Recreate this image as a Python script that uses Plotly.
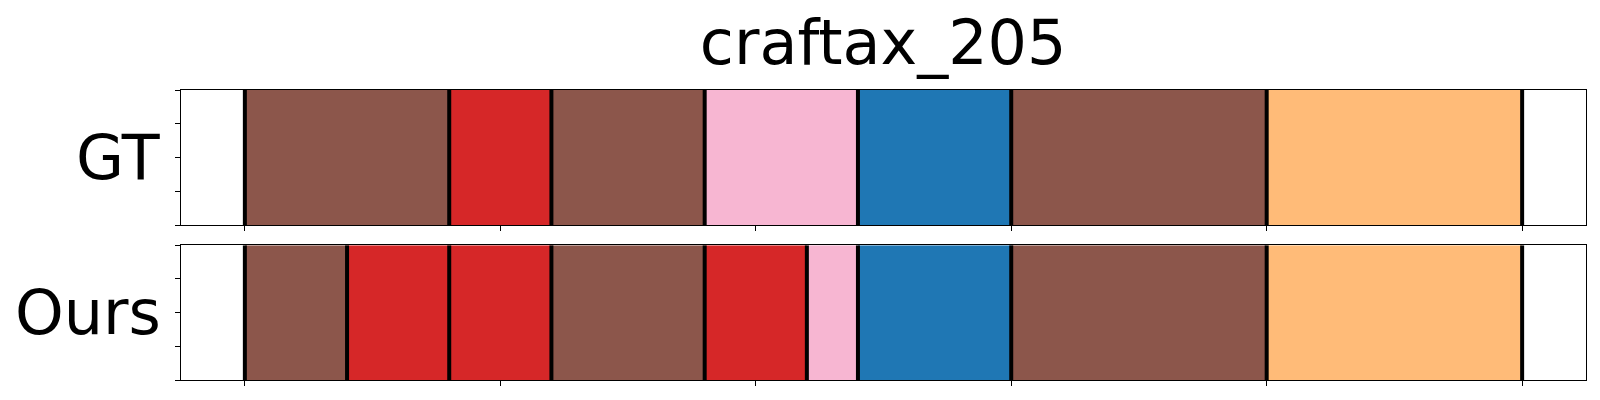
import plotly.graph_objects as go
from plotly.subplots import make_subplots

# ---- data ----
title_text = "craftax_205"
row_names = ["GT", "Ours"]

gt_starts = [0, 40, 60, 90, 120, 150, 200]
gt_ends = [40, 60, 90, 120, 150, 200, 250]
gt_classes = [5, 3, 5, 6, 0, 5, 1]

ours_starts = [0, 20, 40, 60, 90, 110, 120, 150, 200]
ours_ends = [20, 40, 60, 90, 110, 120, 150, 200, 250]
ours_classes = [5, 3, 3, 5, 3, 6, 0, 5, 1]

x_ticks = [0, 50, 100, 150, 200, 250]
y_ticks = [0, 0.25, 0.5, 0.75, 1.0]

# ---- style ----
class_colors = {0: "#1f77b4", 1: "#ffbb78", 3: "#d62728", 5: "#8c564b", 6: "#f7b6d2"}
FONT = "DejaVu Sans"

fig = make_subplots(rows=2, cols=1, shared_xaxes=False, vertical_spacing=0.07)

rows = [(gt_starts, gt_ends, gt_classes), (ours_starts, ours_ends, ours_classes)]
for r, (starts, ends, classes) in enumerate(rows, start=1):
    for s, e, c in zip(starts, ends, classes):
        fig.add_trace(go.Bar(
            x=[e - s], base=[s], y=[0.5], orientation="h", width=1.0,
            marker=dict(color=class_colors[c], line=dict(width=0)),
            showlegend=False, hoverinfo="skip"), row=r, col=1)
    bounds = sorted(set(starts) | set(ends))
    for b in bounds:
        fig.add_trace(go.Scatter(
            x=[b, b], y=[0, 1], mode="lines",
            line=dict(color="black", width=4),
            showlegend=False, hoverinfo="skip"), row=r, col=1)

axis_common = dict(showline=True, linecolor="black", linewidth=1.3, mirror=True,
                   ticks="outside", ticklen=5, tickwidth=1, tickcolor="black",
                   showticklabels=False, showgrid=False, zeroline=False)

for r in (1, 2):
    fig.update_xaxes(range=[-12.5, 262.5], tickvals=x_ticks, **axis_common, row=r, col=1)
    fig.update_yaxes(range=[0, 1], tickvals=y_ticks, **axis_common, row=r, col=1)

fig.update_layout(
    width=1600, height=400,
    margin=dict(l=181, r=14, t=90, b=20),
    plot_bgcolor="white", paper_bgcolor="white",
    barmode="overlay",
    font=dict(family=FONT, color="black"),
    title=dict(text=title_text, x=0.552, xanchor="center", y=0.895, yanchor="middle",
               yref="container", font=dict(size=62, family=FONT, color="black")),
)
fig.update_layout(
    yaxis=dict(domain=[0.5345, 1.0]),
    yaxis2=dict(domain=[0.0, 0.4645]),
)

# row labels
label_y = [(0.5345 + 1.0) / 2, 0.4645 / 2]
for name, yy in zip(row_names, label_y):
    fig.add_annotation(text=name, xref="paper", yref="paper", x=-0.0125, y=yy,
                       xanchor="right", yanchor="middle", showarrow=False,
                       font=dict(size=62, family=FONT, color="black"))

fig.write_html("out.html", post_script="document.body.style.margin='0';",
               config={"displayModeBar": False})
